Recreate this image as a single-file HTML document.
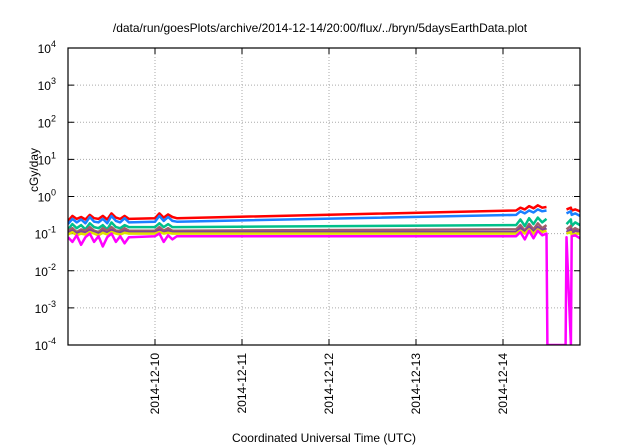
<!DOCTYPE html>
<html><head><meta charset="utf-8"><style>
body{margin:0;background:#fff;font-family:"Liberation Sans",sans-serif}
svg{display:block}
</style></head><body>
<svg id="c" width="640" height="448" xmlns="http://www.w3.org/2000/svg"></svg>
<script>
const tickLabels=["2014-12-10","2014-12-11","2014-12-12","2014-12-13","2014-12-14"];
const tickDays=[1,2,3,4,5];
const yExps=[-4,-3,-2,-1,0,1,2,3,4];
const times=[0,0.05,0.1,0.15,0.2,0.25,0.3,0.35,0.4,0.45,0.5,0.55,0.6,0.65,0.7,1.0,1.05,1.1,1.15,1.2,1.25,5.15,5.2,5.25,5.3,5.35,5.4,5.45,5.5,5.51,5.72,5.73,5.78,5.79,5.83,5.885];
const red=[0.22,0.3,0.25,0.28,0.24,0.32,0.26,0.25,0.3,0.24,0.35,0.27,0.25,0.3,0.25,0.26,0.35,0.27,0.33,0.28,0.26,0.42,0.5,0.45,0.55,0.48,0.58,0.5,0.52,null,null,0.45,0.5,0.42,0.45,0.4];
const blue=[0.18,0.25,0.2,0.24,0.19,0.28,0.21,0.2,0.25,0.19,0.3,0.22,0.2,0.26,0.2,0.21,0.3,0.22,0.28,0.22,0.21,0.32,0.4,0.35,0.42,0.37,0.45,0.4,0.42,null,null,0.35,0.4,0.32,0.35,0.3];
const teal=[0.13,0.18,0.14,0.17,0.13,0.19,0.15,0.14,0.17,0.13,0.2,0.15,0.14,0.17,0.15,0.15,0.19,0.15,0.18,0.15,0.15,0.17,0.24,0.16,0.26,0.18,0.27,0.2,0.25,null,null,0.18,0.24,0.16,0.2,0.17];
const gray=[0.12,0.14,0.11,0.13,0.12,0.15,0.12,0.11,0.14,0.12,0.15,0.12,0.12,0.14,0.12,0.12,0.15,0.12,0.14,0.12,0.12,0.13,0.17,0.12,0.18,0.13,0.19,0.14,0.17,null,null,0.13,0.16,0.12,0.14,0.12];
const purple=[0.105,0.12,0.1,0.115,0.105,0.125,0.11,0.1,0.12,0.105,0.125,0.11,0.105,0.12,0.11,0.11,0.125,0.11,0.12,0.11,0.11,0.11,0.14,0.11,0.15,0.11,0.15,0.12,0.14,null,null,0.11,0.13,0.1,0.12,0.11];
const yellow=[0.095,0.11,0.09,0.1,0.095,0.11,0.1,0.09,0.105,0.095,0.11,0.1,0.095,0.105,0.1,0.1,0.11,0.1,0.105,0.1,0.1,0.1,0.12,0.1,0.13,0.1,0.13,0.11,0.12,null,null,0.1,0.11,0.09,0.1,0.1];
const magenta=[0.08,0.06,0.09,0.05,0.08,0.1,0.06,0.085,0.045,0.08,0.1,0.06,0.085,0.055,0.08,0.085,0.1,0.06,0.09,0.07,0.085,0.085,0.11,0.07,0.12,0.075,0.12,0.09,0.1,0.0001,0.0001,0.08,0.0001,0.085,0.09,0.075];
const seriesList=[["red",red,"#ff0000"],["blue",blue,"#1a80ff"],["teal",teal,"#00c08a"],["gray",gray,"#a0606a"],["purple",purple,"#80409a"],["yellow",yellow,"#e0e000"],["magenta",magenta,"#ff00ff"]];
const L=68,R=580,T=48,B=345,dMax=5.885,eMin=-4,eMax=4;
const X=d=>L+(R-L)*d/dMax;
const Y=v=>B-(B-T)*(Math.log10(v)-eMin)/(eMax-eMin);
const svg=document.getElementById('c');
const NS="http://www.w3.org/2000/svg";
function mk(tag,at,txt){const e=document.createElementNS(NS,tag);for(const k in at)e.setAttribute(k,at[k]);if(txt!=null)e.textContent=txt;svg.appendChild(e);return e;}
const defs=document.createElementNS(NS,'defs');defs.innerHTML='<clipPath id="pc"><rect x="'+L+'" y="'+T+'" width="'+(R-L)+'" height="'+(B-T)+'"/></clipPath>';svg.appendChild(defs);
let t=mk('text',{x:320,y:32,'text-anchor':'middle','font-size':12,fill:'#000'},'/data/run/goesPlots/archive/2014-12-14/20:00/flux/../bryn/5daysEarthData.plot');

yExps.forEach(e=>{const y=Y(Math.pow(10,e));
 if(e>eMin&&e<eMax){const g=mk('line',{x1:L,x2:R,y1:y,y2:y,stroke:'#aaa','stroke-dasharray':'1,2','stroke-width':1});}
 mk('line',{x1:L,x2:L+6,y1:y,y2:y,stroke:'#000'});mk('line',{x1:R,x2:R-6,y1:y,y2:y,stroke:'#000'});
 const tx=mk('text',{x:L-12,y:y+5,'text-anchor':'end','font-size':12,fill:'#000'});
 tx.innerHTML='10<tspan dy="-6" font-size="9">'+e+'</tspan>';
 
});
tickDays.forEach((d,i)=>{const x=X(d);
 const g=mk('line',{x1:x,x2:x,y1:T,y2:B,stroke:'#aaa','stroke-dasharray':'1,2'});
 mk('line',{x1:x,x2:x,y1:B,y2:B-6,stroke:'#000'});mk('line',{x1:x,x2:x,y1:T,y2:T+6,stroke:'#000'});
 const tx=mk('text',{x:0,y:0,'text-anchor':'end','font-size':12,fill:'#000',transform:'translate('+(x+4)+','+(B+8)+') rotate(-90)'},tickLabels[i]);
 
});
seriesList.forEach(([n,vals,col])=>{let d='',pen=false;
 vals.forEach((v,i)=>{if(v==null){pen=false;return;}d+=(pen?'L':'M')+X(times[i]).toFixed(1)+','+Y(v).toFixed(1);pen=true;});
 const p=mk('path',{d:d,fill:'none',stroke:col,'stroke-width':2.5,'stroke-linejoin':'round','clip-path':'url(#pc)'});
 
});
const fr=mk('rect',{x:L,y:T,width:R-L,height:B-T,fill:'none',stroke:'#000','stroke-width':1.2});

t=mk('text',{x:0,y:0,'text-anchor':'middle','font-size':12,fill:'#000',transform:'translate(38,170) rotate(-90)'},'cGy/day');

t=mk('text',{x:324,y:442,'text-anchor':'middle','font-size':12,fill:'#000'},'Coordinated Universal Time (UTC)');

</script>
</body></html>
